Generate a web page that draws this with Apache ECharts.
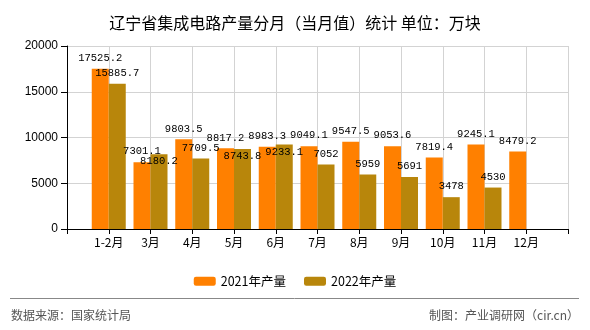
<!DOCTYPE html>
<html>
<head>
<meta charset="utf-8">
<script src="https://cdn.jsdelivr.net/npm/echarts@6/dist/echarts.min.js"></script>
<style>html,body{margin:0;padding:0;background:#fff;}#c{width:590px;height:330px;}</style>
</head>
<body>
<div id="c"></div>
<script>
var months = ['1-2月','3月','4月','5月','6月','7月','8月','9月','10月','11月','12月'];
var values2021 = [17525.2, 7301.1, 9803.5, 8817.2, 8983.3, 9049.1, 9547.5, 9053.6, 7819.4, 9245.1, 8479.2];
var values2022 = [15885.7, 8180.2, 7709.5, 8743.8, 9233.1, 7052, 5959, 5691, 3478, 4530, null];
var yTicks = [0, 5000, 10000, 15000, 20000];
var seriesNames = ['2021年产量', '2022年产量'];

var cjk = '"Noto Sans CJK SC", "Liberation Sans", sans-serif';
var numFont = '"Liberation Mono", "DejaVu Sans Mono", monospace';
// labels of 2022 series drawn inside the bar top (as in reference)
var insideIdx2022 = {1: true, 3: true, 4: true};

var cats = [''].concat(months).concat(['']);
function pad(arr, insideMap) {
  var out = [null];
  arr.forEach(function (v, i) {
    if (v == null) { out.push(null); return; }
    if (insideMap && insideMap[i]) {
      out.push({ value: v, label: { position: 'insideTop', distance: 2 } });
    } else {
      out.push(v);
    }
  });
  out.push(null);
  return out;
}

var chart = echarts.init(document.getElementById('c'));
var labelStyle = { show: true, position: 'top', distance: 5, color: '#000', fontSize: 10.5, fontFamily: numFont };
chart.setOption({
  animation: false,
  backgroundColor: '#fff',
  title: {
    text: '辽宁省集成电路产量分月（当月值）统计 单位：万块',
    left: 'center', top: 10,
    textStyle: { fontSize: 16, fontWeight: 'normal', color: '#000', fontFamily: cjk }
  },
  legend: {
    data: seriesNames,
    top: 270, left: 'center',
    itemWidth: 22, itemHeight: 9, itemGap: 18,
    textStyle: { fontSize: 12.5, color: '#000', fontFamily: cjk }
  },
  grid: { left: 67, right: 22, top: 46, bottom: 101 },
  xAxis: {
    type: 'category',
    data: cats,
    boundaryGap: false,
    axisLine: { lineStyle: { color: '#000' } },
    axisTick: { show: true, interval: 0, length: 5, lineStyle: { color: '#000' } },
    axisLabel: { interval: 0, color: '#000', fontSize: 12, margin: 7, fontFamily: cjk },
    splitLine: { show: true, interval: 0, lineStyle: { color: '#d3d3d3' } }
  },
  yAxis: {
    type: 'value',
    min: yTicks[0], max: yTicks[yTicks.length - 1], interval: yTicks[1] - yTicks[0],
    axisLine: { show: true, lineStyle: { color: '#000' } },
    axisTick: { show: true, length: 6, lineStyle: { color: '#000' } },
    axisLabel: { color: '#000', fontSize: 12, margin: 9, fontFamily: '"Liberation Sans", sans-serif',
      formatter: function (v) { return String(v); } },
    splitLine: { show: true, lineStyle: { color: '#d3d3d3' } }
  },
  series: [
    {
      name: seriesNames[0], type: 'bar', data: pad(values2021),
      barWidth: 17, barGap: '0%',
      itemStyle: { color: '#ff8000' },
      label: labelStyle
    },
    {
      name: seriesNames[1], type: 'bar', data: pad(values2022, insideIdx2022),
      barWidth: 17, barGap: '0%',
      itemStyle: { color: '#b8860b' },
      label: labelStyle
    }
  ],
  graphic: [
    { type: 'line', shape: { x1: 10, y1: 298.5, x2: 579, y2: 298.5 }, style: { stroke: '#888', lineWidth: 1 } },
    { type: 'text', left: 11, top: 309, style: { text: '数据来源：国家统计局', fill: '#555', fontSize: 12, fontFamily: cjk } },
    { type: 'text', right: 11, top: 309, style: { text: '制图：产业调研网（cir.cn）', fill: '#555', fontSize: 12, fontFamily: cjk } }
  ]
});
</script>
</body>
</html>
